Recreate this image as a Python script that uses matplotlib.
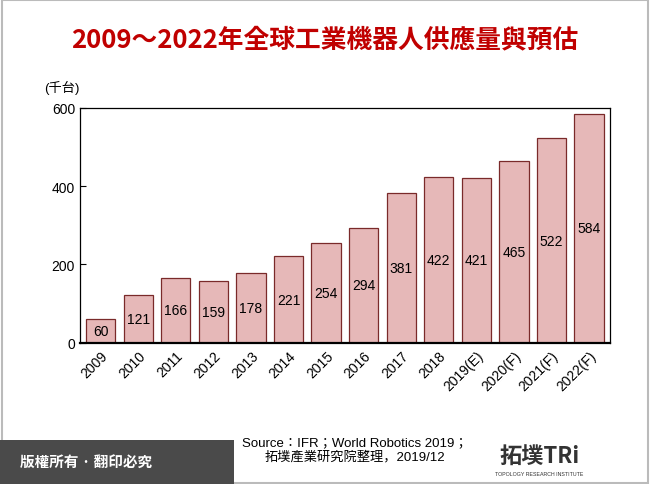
import matplotlib
matplotlib.use("Agg")
import matplotlib.pyplot as plt
from matplotlib.patches import Rectangle

categories = ["2009","2010","2011","2012","2013","2014","2015","2016","2017","2018",
              "2019(E)","2020(F)","2021(F)","2022(F)"]
values = [60,121,166,159,178,221,254,294,381,422,421,465,522,584]
yticks = [0,200,400,600]

CJK = ["Noto Sans CJK TC", "Noto Sans CJK JP", "Noto Sans CJK SC", "Noto Sans CJK KR"]
plt.rcParams["font.family"] = ["Liberation Sans"] + CJK
fig = plt.figure(figsize=(6.5,4.85), dpi=100)
fig.patch.set_facecolor("white")
fig.add_artist(Rectangle((0.003,0.003),0.994,0.994, transform=fig.transFigure,
                         fill=False, edgecolor="#BBBBBB", lw=1.5))
fig.add_artist(Rectangle((0.0,0.0),0.36,0.09, transform=fig.transFigure,
                         facecolor="#4A4A4A", edgecolor="none"))
fig.text(0.03,0.045,"版權所有 · 翻印必究", color="white", fontsize=10.5,
         fontfamily=CJK, va="center", fontweight="bold")
fig.text(0.83,0.057,"拓墣TRi", color="#333333", fontsize=16, fontweight="bold",
         fontfamily=CJK, va="center", ha="center")
fig.text(0.83,0.022,"TOPOLOGY RESEARCH INSTITUTE", color="#333333", fontsize=3.8,
         va="center", ha="center")

fig.text(0.5,0.918,"2009～2022年全球工業機器人供應量與預估", color="#C00000",
         fontsize=18.5, fontweight="bold", ha="center", va="center",
         fontfamily=CJK)

ax = fig.add_axes([0.123, 0.291, 0.815, 0.485])
x = range(len(categories))
ax.bar(x, values, width=0.78, color="#E6B8B8", edgecolor="#7A2A2A", lw=0.9)
for i, v in enumerate(values):
    ax.text(i, v/2, str(v), ha="center", va="center", fontsize=10)
ax.set_xlim(-0.55, len(categories)-0.45)
ax.set_ylim(0, 600)
ax.set_yticks(yticks)
ax.set_xticks(list(x))
ax.set_xticklabels(categories, rotation=45, ha="right", rotation_mode="anchor", fontsize=10)
ax.tick_params(axis="y", labelsize=10, direction="in", length=4)
ax.tick_params(axis="x", length=0, pad=4)
for s in ax.spines.values():
    s.set_linewidth(0.9)
ax.spines["bottom"].set_linewidth(1.6)
fig.text(0.068, 0.81, "(千台)", fontsize=9.5)

fig.text(0.546, 0.072, "Source：IFR；World Robotics 2019；\n拓墣產業研究院整理，2019/12",
         ha="center", va="center", fontsize=9.5, linespacing=1.2)
fig.savefig("out.png", dpi=100)
